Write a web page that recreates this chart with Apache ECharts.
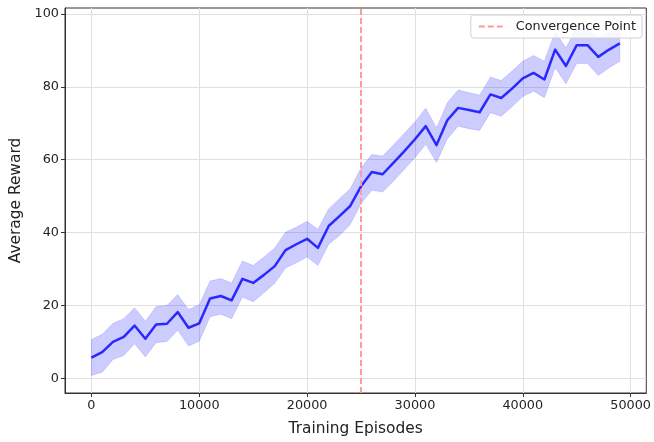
<!DOCTYPE html>
<html>
<head>
<meta charset="utf-8">
<script src="https://cdn.jsdelivr.net/npm/echarts@6/dist/echarts.min.js"></script>
<style>
  html, body { margin: 0; padding: 0; background: #fff; }
  #chart { width: 654px; height: 442px; }
</style>
</head>
<body>
<div id="chart"></div>
<script>
// Training episodes (x) and reward statistics
const episodes = [
  0, 1000, 2000, 3000, 4000, 5000, 6000, 7000, 8000, 9000,
  10000, 11000, 12000, 13000, 14000, 15000, 16000, 17000, 18000, 19000,
  20000, 21000, 22000, 23000, 24000, 25000, 26000, 27000, 28000, 29000,
  30000, 31000, 32000, 33000, 34000, 35000, 36000, 37000, 38000, 39000,
  40000, 41000, 42000, 43000, 44000, 45000, 46000, 47000, 48000, 49000
];
const meanReward = [
  5.7, 7.2, 10.0, 11.4, 14.5, 10.9, 14.8, 15.0, 18.2, 13.9,
  15.1, 21.9, 22.6, 21.4, 27.3, 26.2, 28.4, 30.8, 35.2, 36.8,
  38.3, 35.8, 41.8, 44.5, 47.3, 52.7, 56.6, 56.0, 59.1, 62.3,
  65.6, 69.2, 64.0, 70.8, 74.2, 73.6, 73.0, 77.9, 76.9, 79.5,
  82.3, 83.8, 82.0, 90.2, 85.7, 91.4, 91.4, 88.2, 90.2, 91.9
];
const upperBand = [
  10.7, 12.1, 15.1, 16.4, 19.4, 15.7, 19.7, 20.0, 23.0, 18.9,
  20.2, 26.7, 27.4, 26.2, 32.2, 31.0, 33.3, 35.8, 40.1, 41.5,
  43.1, 40.9, 46.5, 49.3, 52.0, 57.8, 61.4, 61.0, 64.0, 67.2,
  70.3, 74.1, 68.7, 75.6, 79.1, 78.4, 77.7, 82.7, 81.7, 84.3,
  87.0, 88.6, 87.0, 95.1, 90.7, 96.2, 96.2, 93.2, 95.0, 96.8
];
const lowerBand = [
  0.8, 1.7, 5.2, 6.3, 9.5, 5.9, 9.8, 10.1, 13.2, 8.9,
  10.2, 16.9, 17.6, 16.4, 22.3, 21.0, 23.5, 26.1, 30.3, 31.7,
  33.3, 31.0, 36.8, 39.2, 42.2, 48.0, 51.6, 51.1, 54.1, 57.3,
  60.5, 64.2, 59.2, 65.7, 69.2, 68.5, 68.0, 72.9, 71.9, 74.5,
  77.3, 78.8, 77.0, 85.2, 80.8, 86.4, 86.4, 83.1, 85.2, 87.0
];
const convergenceEpisode = 25000;

const xTicks = [0, 10000, 20000, 30000, 40000, 50000];
const yTicks = [0, 20, 40, 60, 80, 100];
const xRange = [-2450, 51450];
const yRange = [-4.0, 101.6];

const FONT = 'DejaVu Sans';
const pairs = (ys) => episodes.map((x, i) => [x, ys[i]]);

const chart = echarts.init(document.getElementById('chart'), null, { renderer: 'canvas' });

const axisCommon = {
  axisLine: { show: true, onZero: false, lineStyle: { color: '#333', width: 1 } },
  axisTick: { show: true, inside: false, length: 4, lineStyle: { color: '#333', width: 1 } },
  splitLine: { show: true, lineStyle: { color: '#e0e0e0', width: 1 } },
  axisLabel: { color: '#222', fontFamily: FONT, fontSize: 12.8, margin: 6, formatter: (v) => String(v) },
  nameTextStyle: { color: '#222', fontFamily: FONT, fontSize: 15.4 }
};

// Shaded band between lowerBand and upperBand, drawn as one polygon
function renderBand(params, api) {
  if (params.dataIndex !== 0) return null;
  const top = episodes.map((x, i) => api.coord([x, upperBand[i]]));
  const bottom = episodes.map((x, i) => api.coord([x, lowerBand[i]])).reverse();
  return {
    type: 'polygon',
    shape: { points: top.concat(bottom) },
    style: { fill: 'rgba(0,0,255,0.2)', stroke: 'rgba(0,0,255,0.12)', lineWidth: 1 }
  };
}

chart.setOption({
  animation: false,
  backgroundColor: '#fff',
  grid: {
    left: 65, right: 6, top: 8, bottom: 49,
    show: true, borderColor: '#333', borderWidth: 1, backgroundColor: 'transparent'
  },
  legend: {
    data: ['Convergence Point'],
    right: 12, top: 15,
    padding: [5, 6, 5, 7],
    itemWidth: 26, itemHeight: 10,
    backgroundColor: 'rgba(255,255,255,0.85)',
    borderColor: '#d0d0d0', borderWidth: 1, borderRadius: 3,
    itemStyle: { opacity: 0 },
    textStyle: { fontFamily: FONT, fontSize: 12.8, color: '#222', padding: [0, 0, 0, 6] }
  },
  xAxis: Object.assign({}, axisCommon, {
    type: 'value',
    min: xRange[0], max: xRange[1],
    name: 'Training Episodes',
    nameLocation: 'middle',
    nameGap: 28,
    axisTick: Object.assign({}, axisCommon.axisTick, { customValues: xTicks }),
    axisLabel: Object.assign({}, axisCommon.axisLabel, { customValues: xTicks })
  }),
  yAxis: Object.assign({}, axisCommon, {
    type: 'value',
    min: yRange[0], max: yRange[1],
    name: 'Average Reward',
    nameLocation: 'middle',
    nameGap: 40,
    axisTick: Object.assign({}, axisCommon.axisTick, { customValues: yTicks }),
    axisLabel: Object.assign({}, axisCommon.axisLabel, { customValues: yTicks })
  }),
  series: [
    {
      name: 'band',
      type: 'custom',
      renderItem: renderBand,
      data: pairs(meanReward),
      silent: true,
      z: 1
    },
    {
      name: 'Average Reward',
      type: 'line',
      data: pairs(meanReward),
      symbol: 'none',
      lineStyle: { color: 'rgba(0,0,255,0.8)', width: 2.5, join: 'round' },
      z: 2
    },
    {
      name: 'Convergence Point',
      type: 'line',
      data: [[convergenceEpisode, yRange[0]], [convergenceEpisode, yRange[1]]],
      symbol: 'none',
      itemStyle: { color: '#ff9a9a' },
      lineStyle: { color: '#ff9a9a', width: 2, type: [6, 3] },
      z: 3
    }
  ]
});
</script>
</body>
</html>
